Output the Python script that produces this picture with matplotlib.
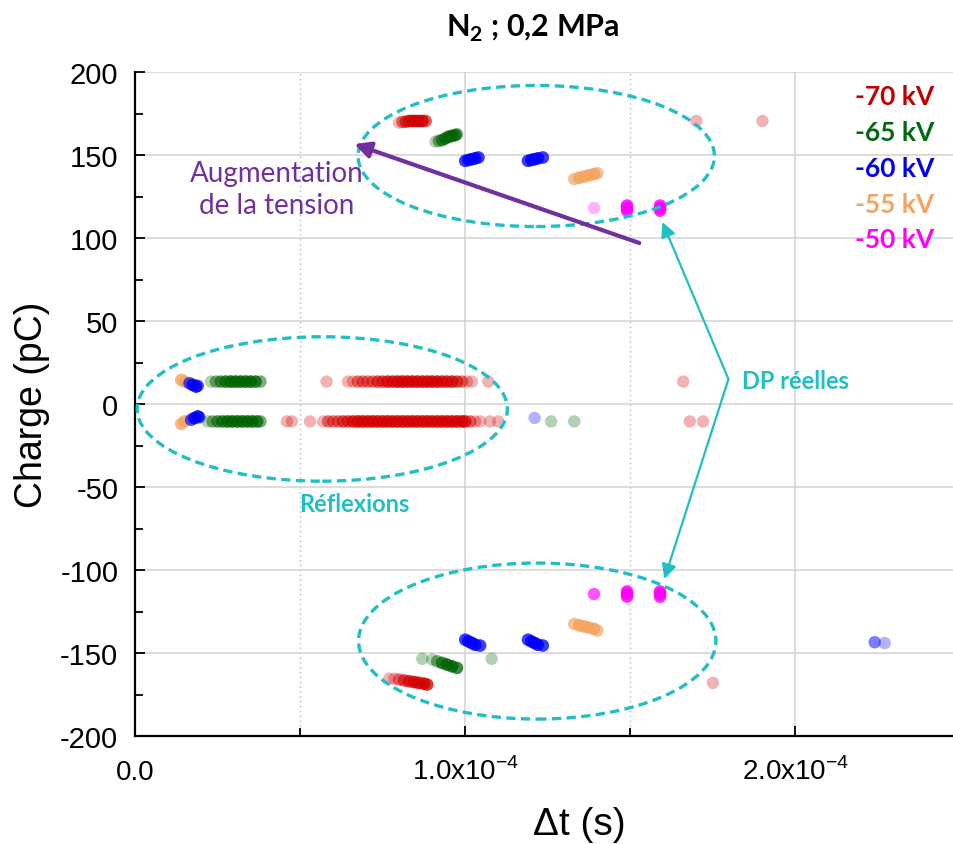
import numpy as np
import matplotlib.pyplot as plt
from matplotlib.patches import Ellipse
from matplotlib.ticker import MultipleLocator

plt.rcParams['font.family'] = ['Liberation Sans', 'DejaVu Sans']
plt.rcParams['axes.unicode_minus'] = False
plt.rcParams['mathtext.fontset'] = 'custom'
plt.rcParams['mathtext.rm'] = 'Liberation Sans'
plt.rcParams['mathtext.bf'] = 'Lato:bold'

# Données : dt en unités de 1e-4 s, charge en pC, n = nombre de décharges superposées
dt_70 = [0.80, 0.81, 0.82, 0.83, 0.84, 0.85, 0.86, 0.87, 0.88, 1.70, 1.90,
         0.58, 0.645, 0.66, 0.675, 0.69, 0.705, 0.72, 0.735, 0.75, 0.765, 0.78, 0.795,
         0.81, 0.825, 0.84, 0.855, 0.87, 0.885, 0.90, 0.915, 0.93, 0.945, 0.96, 0.975,
         0.99, 1.005, 1.02, 1.07, 1.66,
         0.46, 0.475, 0.53, 0.57, 0.585, 0.60, 0.615, 0.63, 0.645, 0.66, 0.675, 0.69,
         0.705, 0.72, 0.735, 0.75, 0.765, 0.78, 0.795, 0.81, 0.825, 0.84, 0.855, 0.87,
         0.885, 0.90, 0.915, 0.93, 0.945, 0.96, 0.975, 0.99, 1.00, 1.015, 1.03, 1.045,
         1.075, 1.10, 1.68, 1.72,
         0.77, 0.785, 0.80, 0.815, 0.83, 0.845, 0.86, 0.875, 0.885, 1.75]
q_70 = [169.5, 170, 170, 170.5, 170.5, 170.5, 170.5, 170.5, 170.5, 170.5, 170.5,
        13.5, 13.5, 13.5, 13.5, 13.5, 13.5, 13.5, 13.5, 13.5, 13.5, 13.5, 13.5,
        13.5, 13.5, 13.5, 13.5, 13.5, 13.5, 13.5, 13.5, 13.5, 13.5, 13.5, 13.5,
        13.5, 13.5, 13.5, 13.5, 13.5,
        -10.5, -10.5, -10.5, -10.5, -10.5, -10.5, -10.5, -10.5, -10.5, -10.5, -10.5, -10.5,
        -10.5, -10.5, -10.5, -10.5, -10.5, -10.5, -10.5, -10.5, -10.5, -10.5, -10.5, -10.5,
        -10.5, -10.5, -10.5, -10.5, -10.5, -10.5, -10.5, -10.5, -10.5, -10.5, -10.5, -10.5,
        -10.5, -10.5, -10.5, -10.5,
        -165.5, -165.5, -166, -166.5, -167, -167.5, -168, -168.5, -169, -168]
n_70 = [1, 2, 3, 4, 5, 5, 5, 5, 3, 1, 1,
        1, 1, 1, 2, 2, 2, 2, 3, 3, 4, 4, 5,
        5, 5, 5, 5, 5, 5, 5, 5, 4, 4, 4, 3,
        2, 1, 1, 1, 1,
        1, 1, 1, 1, 2, 2, 2, 3, 3, 4, 5, 5,
        5, 5, 5, 5, 5, 5, 5, 5, 5, 5, 5, 5,
        5, 5, 5, 5, 5, 5, 5, 5, 4, 2, 1, 1,
        1, 1, 1, 1,
        1, 1, 2, 3, 4, 5, 5, 5, 4, 1]

dt_65 = [0.91, 0.92, 0.93, 0.94, 0.95, 0.96, 0.97, 0.975,
         0.23, 0.245, 0.26, 0.275, 0.29, 0.305, 0.32, 0.335, 0.35, 0.365, 0.38,
         0.22, 0.235, 0.25, 0.265, 0.28, 0.295, 0.31, 0.325, 0.34, 0.355, 0.37, 0.38,
         1.26, 1.33,
         0.87, 0.90, 0.915, 0.93, 0.945, 0.96, 0.975, 1.08]
q_65 = [158, 158.5, 159, 160, 161, 161.5, 162, 162.5,
        13.5, 13.5, 13.5, 13.5, 13.5, 13.5, 13.5, 13.5, 13.5, 13.5, 13.5,
        -10.5, -10.5, -10.5, -10.5, -10.5, -10.5, -10.5, -10.5, -10.5, -10.5, -10.5, -10.5,
        -10.5, -10.5,
        -153.5, -154, -155, -156, -157, -158, -159, -153.5]
n_65 = [1, 2, 3, 4, 5, 5, 4, 2,
        1, 2, 3, 4, 5, 5, 5, 5, 5, 4, 2,
        1, 2, 3, 4, 5, 5, 5, 5, 5, 5, 4, 2,
        1, 1,
        1, 1, 2, 4, 5, 5, 4, 1]

dt_60 = [1.00, 1.01, 1.02, 1.03, 1.04, 1.19, 1.20, 1.21, 1.22, 1.235,
         0.165, 0.175, 0.185, 0.19,
         0.17, 0.18, 0.19, 0.195, 1.21,
         1.00, 1.01, 1.02, 1.03, 1.045, 1.19, 1.20, 1.21, 1.22, 1.235,
         2.24, 2.27]
q_60 = [146.5, 147, 147.5, 148, 148.5, 146.5, 147, 147.5, 148, 148.5,
        12.5, 11.5, 10.5, 11,
        -9.5, -8.5, -7.5, -8, -8.4,
        -142, -143, -144, -145, -145.5, -142, -143, -144, -145, -145.5,
        -143.5, -144]
n_60 = [4, 5, 5, 5, 4, 4, 5, 5, 5, 4,
        3, 5, 5, 3,
        3, 5, 5, 3, 1,
        4, 5, 5, 5, 4, 4, 5, 5, 5, 4,
        2, 1]

dt_55 = [1.33, 1.345, 1.36, 1.375, 1.39, 1.40,
         0.14, 0.15, 0.14, 0.15,
         1.33, 1.345, 1.36, 1.375, 1.39, 1.40]
q_55 = [135.5, 136.3, 137, 137.8, 138.5, 139,
        14.5, 13.5, -12, -10.5,
        -132.5, -133.3, -134, -134.8, -135.5, -136.5]
n_55 = [3, 5, 5, 5, 5, 3,
        4, 4, 4, 4,
        3, 5, 5, 5, 5, 3]

dt_50 = [1.39, 1.49, 1.49, 1.49, 1.59, 1.59, 1.59,
         1.39, 1.49, 1.49, 1.49, 1.59, 1.59, 1.59]
q_50 = [118, 116.5, 118, 119.5, 116.5, 118, 119.5,
        -114.5, -113, -114.5, -116, -113, -114.5, -116]
n_50 = [1, 5, 5, 5, 5, 5, 5,
        3, 5, 5, 5, 5, 5, 5]

series_labels = ['-50 kV', '-55 kV', '-60 kV', '-65 kV', '-70 kV']
series_dt = [dt_50, dt_55, dt_60, dt_65, dt_70]
series_q = [q_50, q_55, q_60, q_65, q_70]
series_n = [n_50, n_55, n_60, n_65, n_70]
point_colors = ['#FF00FF', '#F4A460', '#0000FF', '#006400', '#D40000']
label_colors = ['#FF00FF', '#F4A460', '#0000F0', '#006A12', '#C00000']

cyan = '#20BFC6'
purple = '#7030A0'

fig = plt.figure(figsize=(9.54, 8.45), dpi=100)
ax = fig.add_axes([0.1415, 0.1278, 0.8585, 0.7858])

for dt, q, n, col in zip(series_dt, series_q, series_n, point_colors):
    x = np.repeat(np.array(dt) * 1e-4, n)
    y = np.repeat(np.array(q, dtype=float), n)
    ax.scatter(x, y, s=80, color=col, alpha=0.3, edgecolors='none', zorder=3)

ax.set_xlim(0, 2.48e-4)
ax.set_ylim(-200, 200)

# grille
ax.set_xticks([0, 1e-4, 2e-4])
ax.set_xticklabels(['0.0', r'1.0x10$^{\mathrm{-4}}$', r'2.0x10$^{\mathrm{-4}}$'])
ax.xaxis.set_minor_locator(MultipleLocator(0.5e-4))
ax.yaxis.set_major_locator(MultipleLocator(50))
ax.yaxis.set_minor_locator(MultipleLocator(25))
ax.grid(which='major', color='#d2d2d2', lw=1.1, zorder=0)
ax.xaxis.grid(True, which='minor', color='#b8b8b8', ls=(0, (1, 2.5)), lw=1, zorder=0)
ax.set_axisbelow(True)

for s in ['top', 'right']:
    ax.spines[s].set_visible(False)
for s in ['left', 'bottom']:
    ax.spines[s].set_linewidth(1.6)

ax.tick_params(which='both', direction='in', width=1.3)
ax.tick_params(axis='y', labelsize=21, pad=12)
ax.tick_params(axis='x', labelsize=20, pad=31)
ax.tick_params(which='major', length=7)
ax.tick_params(which='minor', length=6)
plt.setp(ax.get_xticklabels(), va='baseline')

ax.set_ylabel('Charge (pC)', fontsize=27)
ax.yaxis.set_label_coords(-0.104, 0.5)
ax.set_xlabel('Δt (s)', fontsize=28)
ax.xaxis.set_label_coords(0.543, -0.105)

fig.text(533 / 954, 1 - 28 / 845, r'N$_\mathbf{2}$ ; 0,2 MPa', fontsize=22,
         fontweight='bold', family='Lato', ha='center', va='center')

# légende en texte coloré
leg_y = [99.4, 120.5, 142.2, 163.9, 185.5]
for lab, col, yy in zip(series_labels, label_colors, leg_y):
    ax.text(2.421e-4, yy, lab, color=col, fontsize=19, fontweight='bold',
            family='Lato', ha='right', va='center')

# ellipses en pointillés
for cx, cy, w, h in [(1.215e-4, 149.4, 1.079e-4, 85),
                     (0.567e-4, -3, 1.121e-4, 87),
                     (1.218e-4, -142.8, 1.082e-4, 94)]:
    ax.add_patch(Ellipse((cx, cy), w, h, fill=False, ec=cyan, lw=2.4,
                         ls=(0, (2.8, 1.6)), zorder=4))

ax.text(0.664e-4, -60.2, 'Réflexions', color=cyan, fontsize=17, fontweight='bold',
        family='Lato', ha='center', va='center')
ax.text(1.839e-4, 13.9, 'DP réelles', color=cyan, fontsize=17, fontweight='bold',
        family='Lato', ha='left', va='center')
for tip in [(1.597e-4, 109.6), (1.603e-4, -105.4)]:
    ax.annotate('', xy=tip, xytext=(1.797e-4, 15),
                arrowprops=dict(arrowstyle='-|>', color=cyan, lw=1.6,
                                mutation_scale=22, shrinkA=0, shrinkB=0), zorder=5)

ax.text(0.43e-4, 129.5, 'Augmentation\nde la tension', color=purple, fontsize=20,
        family='Lato', ha='center', va='center', linespacing=1.25)
ax.annotate('', xy=(0.664e-4, 156.6), xytext=(1.527e-4, 97),
            arrowprops=dict(arrowstyle='-|>', color=purple, lw=3,
                            mutation_scale=24, shrinkA=0, shrinkB=0), zorder=5)

fig.savefig('out.png', dpi=100)
